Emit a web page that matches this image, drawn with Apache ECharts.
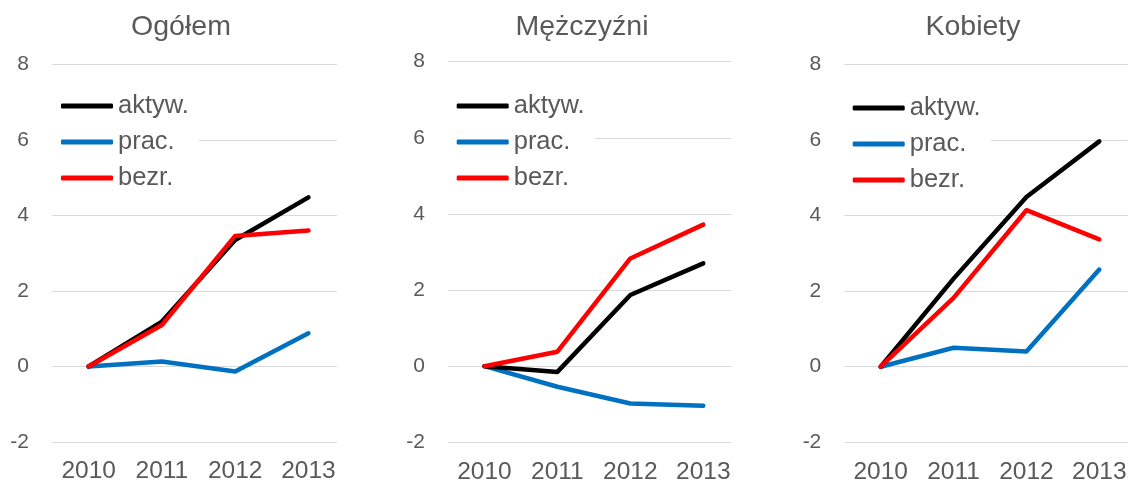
<!DOCTYPE html>
<html>
<head>
<meta charset="utf-8">
<script src="https://cdn.jsdelivr.net/npm/echarts@6/dist/echarts.min.js"></script>
<style>html,body{margin:0;padding:0;background:#fff}#c{width:1129px;height:481px}</style>
</head>
<body>
<div id="c"></div>
<script>
const years = [2010, 2011, 2012, 2013];
const panelTitles = ['Ogółem', 'Mężczyźni', 'Kobiety'];
const seriesNames = ['aktyw.', 'prac.', 'bezr.'];
const yTicks = [-2, 0, 2, 4, 6, 8];

const ogolemAktyw = [0, 1.19, 3.35, 4.48];
const ogolemPrac  = [0, 0.13, -0.13, 0.88];
const ogolemBezr  = [0, 1.10, 3.46, 3.60];

const mezczyzniAktyw = [0, -0.15, 1.87, 2.70];
const mezczyzniPrac  = [0, -0.54, -0.98, -1.04];
const mezczyzniBezr  = [0, 0.38, 2.83, 3.72];

const kobietyAktyw = [0, 2.33, 4.49, 5.96];
const kobietyPrac  = [0, 0.50, 0.40, 2.57];
const kobietyBezr  = [0, 1.82, 4.14, 3.37];

const panelData = [
  [ogolemAktyw, ogolemPrac, ogolemBezr],
  [mezczyzniAktyw, mezczyzniPrac, mezczyzniBezr],
  [kobietyAktyw, kobietyPrac, kobietyBezr]
];

const colors = ['#000000', '#0070C0', '#FF0000'];
const FONT = 'Liberation Sans, Arial, sans-serif';
const TXT = '#595959';

const grids = [
  {left: 52, top: 64.5, width: 285, height: 377.5, outerBoundsMode: 'none', containLabel: false},
  {left: 448, top: 61.7, width: 283.7, height: 380.6, outerBoundsMode: 'none', containLabel: false},
  {left: 844.3, top: 64.3, width: 283.4, height: 378, outerBoundsMode: 'none', containLabel: false}
];
const titleX = [181, 582, 973];
const legendX = [51, 446.7, 842.7];
const legendY = [88, 88, 90];

const option = {
  animation: false,
  backgroundColor: '#fff',
  title: panelTitles.map((t, i) => ({
    text: t, left: titleX[i], top: 12, padding: 0, textAlign: 'center',
    textStyle: {fontFamily: FONT, fontSize: 28.5, fontWeight: 'normal', color: TXT, lineHeight: 30}
  })),
  grid: grids,
  legend: grids.map((g, i) => ({
    orient: 'vertical', left: legendX[i], top: legendY[i],
    data: seriesNames, icon: 'roundRect', itemWidth: 52, itemHeight: 5, itemGap: 8,
    backgroundColor: '#fff', padding: [4, 10, 4, 10], selectedMode: false, z: 5,
    textStyle: {fontFamily: FONT, fontSize: 25.5, color: TXT, lineHeight: 28, padding: [0, 0, 0, 0]}
  })),
  xAxis: grids.map((g, i) => ({
    type: 'value', gridIndex: i, min: 2009.5, max: 2013.39,
    axisLine: {show: false}, axisTick: {show: false}, splitLine: {show: false},
    axisLabel: {customValues: years, margin: 17, fontFamily: FONT, fontSize: 24.5, color: TXT,
      formatter: v => String(v)}
  })),
  yAxis: grids.map((g, i) => ({
    type: 'value', gridIndex: i, min: -2, max: 8, interval: 2,
    axisLine: {show: false}, axisTick: {show: false},
    splitLine: {lineStyle: {color: '#D9D9D9', width: 1}},
    axisLabel: {margin: 23, fontFamily: FONT, fontSize: 21, color: TXT}
  })),
  series: []
};

panelData.forEach((arrs, p) => {
  arrs.forEach((vals, s) => {
    option.series.push({
      type: 'line', name: seriesNames[s], xAxisIndex: p, yAxisIndex: p,
      data: years.map((y, k) => [y, vals[k]]),
      symbol: 'none', z: s === 1 ? 2 : (s === 0 ? 3 : 4),
      lineStyle: {color: colors[s], width: 4.5, cap: 'round', join: 'round'},
      itemStyle: {color: colors[s]}
    });
  });
});

const chart = echarts.init(document.getElementById('c'), null, {renderer: 'canvas'});
chart.setOption(option);
</script>
</body>
</html>
